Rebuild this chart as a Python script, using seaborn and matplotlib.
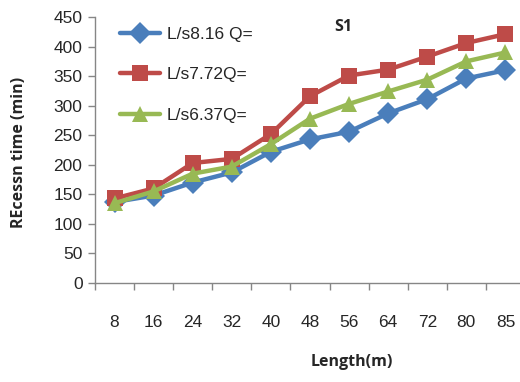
import matplotlib
matplotlib.use("Agg")
import matplotlib.pyplot as plt
import seaborn as sns
import pandas as pd
from matplotlib.ticker import FixedLocator

categories = ["8", "16", "24", "32", "40", "48", "56", "64", "72", "80", "85"]
q816 = [137, 148, 170, 187, 222, 243, 256, 287, 311, 346, 360]
q772 = [143, 160, 203, 210, 252, 316, 351, 361, 383, 406, 421]
q637 = [135, 155, 185, 197, 235, 278, 303, 324, 344, 375, 390]
series_names = ["L/s8.16 Q=", "L/s7.72Q=", "L/s6.37Q="]
colors = ["#4A7EBB", "#BE4B48", "#98B954"]
markers = ["D", "s", "^"]
yticks = [0, 50, 100, 150, 200, 250, 300, 350, 400, 450]

rows = []
for name, vals in zip(series_names, [q816, q772, q637]):
    for c, v in zip(categories, vals):
        rows.append({"Length": c, "Time": v, "Series": name})
df = pd.DataFrame(rows)

sns.set_style("white")
plt.rcParams["font.family"] = ["Liberation Sans", "DejaVu Sans"]

fig = plt.figure(figsize=(5.2, 3.82), dpi=100)
ax = fig.add_axes([95/520, (382-283)/382, 430/520, 266/382])

sns.lineplot(data=df, x="Length", y="Time", hue="Series", style="Series",
             palette=colors, markers=markers, dashes=False, sort=False,
             linewidth=3.2, markersize=11, markeredgewidth=0, ax=ax)

ax.set_xlim(-0.5, 10.5)
ax.set_ylim(0, 450)
ax.set_yticks(yticks)
ax.tick_params(axis="y", which="major", length=5, width=1, color="#868686",
               labelsize=12.5, pad=4, direction="out", left=True)
ax.tick_params(axis="x", which="major", length=0, labelsize=12.5, pad=23)
ax.xaxis.set_minor_locator(FixedLocator([i - 0.5 for i in range(len(categories) + 1)]))
ax.tick_params(axis="x", which="minor", length=5, width=1, color="#868686",
               direction="out", bottom=True)

for s in ["top", "right"]:
    ax.spines[s].set_visible(False)
for s in ["left", "bottom"]:
    ax.spines[s].set_color("#868686")
    ax.spines[s].set_linewidth(1)

ax.set_xlabel("Length(m)", fontsize=11.5, fontweight="bold",
              family=["Open Sans", "DejaVu Sans"])
ax.set_ylabel("REcessn time (min)", fontsize=11.5, fontweight="bold",
              family=["Open Sans", "DejaVu Sans"])
ax.xaxis.set_label_coords((352-95)/430, -(354-283)/266)
ax.yaxis.set_label_coords(-(95-27)/430, 0.49)

fig.text(343/520, 1 - 27/382, "S1", fontsize=11.5, fontweight="bold",
         family=["Open Sans", "DejaVu Sans"], ha="center", va="center")

leg = ax.legend(loc="upper left", bbox_to_anchor=(113/520, 1 - 20/382),
                bbox_transform=fig.transFigure, frameon=False,
                fontsize=12.5, handlelength=2.3, handletextpad=0.4,
                labelspacing=1.45, borderaxespad=0)

fig.savefig("out.png", dpi=100)
